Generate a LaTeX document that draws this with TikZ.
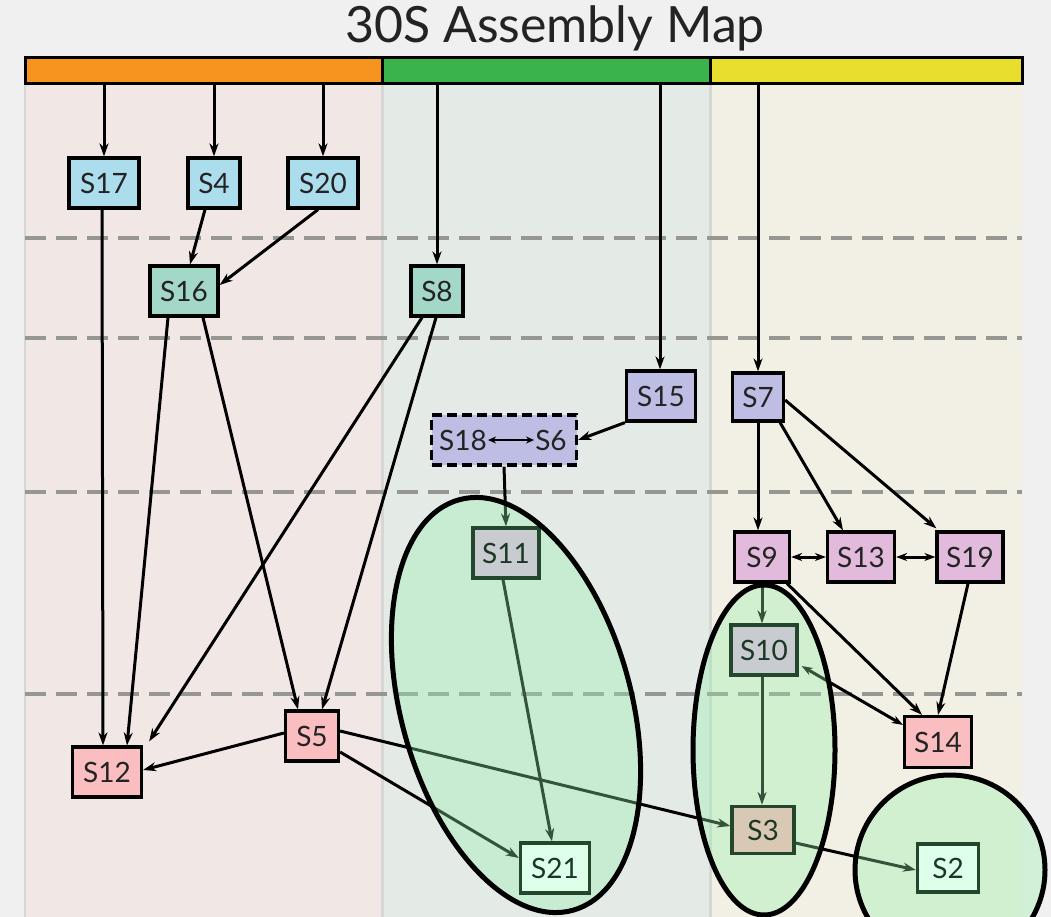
\documentclass[tikz,border=0pt]{standalone}
\usepackage{fontspec}
\setmainfont{Lato}
\usetikzlibrary{arrows.meta}
\definecolor{bgout}{RGB}{240,240,240}
\definecolor{bgA}{RGB}{241,231,229}
\definecolor{bgB}{RGB}{228,234,230}
\definecolor{bgC}{RGB}{242,240,228}
\definecolor{divc}{RGB}{214,214,214}
\definecolor{barO}{RGB}{245,148,30}
\definecolor{barG}{RGB}{58,180,74}
\definecolor{barY}{RGB}{232,222,45}
\definecolor{dashc}{RGB}{150,150,146}
\definecolor{cBlue}{RGB}{172,221,236}
\definecolor{cTeal}{RGB}{163,216,200}
\definecolor{cLav}{RGB}{190,190,228}
\definecolor{cPinkL}{RGB}{225,186,220}
\definecolor{cPink}{RGB}{250,190,192}
\definecolor{cGray}{RGB}{200,204,208}
\definecolor{cTan}{RGB}{216,200,180}
\definecolor{cMint}{RGB}{222,255,234}
\definecolor{dkgreen}{RGB}{35,70,45}
\definecolor{ovl}{RGB}{150,240,170}
\definecolor{txt}{RGB}{35,35,35}
\tikzset{
  prot/.style={draw=black, line width=3.2pt, minimum height=50pt, inner sep=0pt,
    font=\fontsize{28}{28}\selectfont, text=txt},
  inell/.style={draw=dkgreen, text=dkgreen!80!black},
  arr/.style={line width=3pt, -{Stealth[length=13pt,width=9pt]}},
  darr/.style={line width=3pt, {Stealth[length=11pt,width=8pt]}-{Stealth[length=11pt,width=8pt]}},
  hdash/.style={draw=dashc, line width=3.5pt, dash pattern=on 21pt off 10pt},
  ovfill/.style={fill=ovl, fill opacity=0.35},
  ovline/.style={draw=black, line width=5pt}
}
\begin{document}
\begin{tikzpicture}[x=1pt,y=1pt]
\useasboundingbox (0,0) rectangle (1051,-917);
% backgrounds
\fill[bgout] (0,0) rectangle (1051,-917);
\fill[bgA] (25,-84) rectangle (382,-917);
\fill[bgB] (382,-84) rectangle (710,-917);
\fill[bgC] (710,-84) rectangle (1022,-917);
\draw[divc, line width=3pt] (382,-84) -- (382,-917);
\draw[divc, line width=3pt] (710,-84) -- (710,-917);
\draw[divc, line width=2pt] (25,-84) -- (25,-917);
% dashed level lines
\foreach \yy in {238,338,492,694} {\draw[hdash] (25,-\yy) -- (1022,-\yy);}
% title
\node[font=\fontsize{50}{50}\selectfont, text=txt] (title) at (555,-28) {30S Assembly Map};
% color bar
\draw[fill=barO, line width=3pt] (25,-58) rectangle (382,-84);
\draw[fill=barG, line width=3pt] (382,-58) rectangle (710,-84);
\draw[fill=barY, line width=3pt] (710,-58) rectangle (1022,-84);
\coordinate (t17) at (104,-84);
\coordinate (t4) at (214,-84);
\coordinate (t20) at (323,-84);
\coordinate (t8) at (437,-84);
\coordinate (t15) at (660,-84);
\coordinate (t7) at (758,-84);
% nodes
\node[prot, fill=cBlue, minimum width=70pt] (S17) at (104,-183) {S17};
\node[prot, fill=cBlue, minimum width=52pt] (S4) at (214,-183) {S4};
\node[prot, fill=cBlue, minimum width=70pt] (S20) at (323,-183) {S20};
\node[prot, fill=cTeal, minimum width=68pt] (S16) at (184,-291) {S16};
\node[prot, fill=cTeal, minimum width=52pt] (S8) at (437,-291) {S8};
\node[prot, fill=cLav, minimum width=69pt] (S15) at (661,-396) {S15};
\node[prot, fill=cLav, minimum width=51pt, minimum height=48pt] (S7) at (758,-397) {S7};
\node[prot, fill=cLav, minimum width=145pt, dashed, dash pattern=on 10pt off 5pt] (G) at (504,-440) {};
\node[font=\fontsize{28}{28}\selectfont, text=txt, inner sep=1pt] (S18) at (463,-440) {S18};
\node[font=\fontsize{28}{28}\selectfont, text=txt, inner sep=1pt] (S6) at (551,-440) {S6};
\node[prot, fill=cPinkL, minimum width=55pt] (S9) at (762,-557) {S9};
\node[prot, fill=cPinkL, minimum width=67pt] (S13) at (861,-557) {S13};
\node[prot, fill=cPinkL, minimum width=66pt] (S19) at (970,-557) {S19};
\node[prot, fill=cPink, minimum width=67pt, minimum height=51pt] (S14) at (938,-742) {S14};
\node[prot, fill=cPink, minimum width=69pt] (S12) at (107,-772) {S12};
\node[prot, fill=cPink, minimum width=53pt] (S5) at (312,-736) {S5};
% edges
\draw[arr] (t17) -- (S17.north);
\draw[arr] (t4) -- (S4.north);
\draw[arr] (t20) -- (S20.north);
\draw[arr] (t8) -- (S8.north);
\draw[arr] (t15) -- (S15.north -| t15);
\draw[arr] (t7) -- (S7.north);
\draw[arr] ([xshift=-9pt]S4.south) -- ([xshift=6pt]S16.north);
\draw[arr] ([xshift=-5pt]S20.south) -- ([yshift=6pt]S16.east);
\draw[arr] ([xshift=-2pt]S17.south) -- ([xshift=-4pt]S12.north);
\draw[arr] ([xshift=-16pt]S16.south) -- ([xshift=20pt]S12.north);
\draw[arr] ([xshift=19pt]S16.south) -- ([xshift=-14pt]S5.north);
\draw[arr] ([xshift=-15pt]S8.south) -- ([xshift=6pt,yshift=4pt]S12.north east);
\draw[arr] ([xshift=-1pt]S8.south) -- ([xshift=10pt]S5.north);
\draw[arr] ([yshift=3pt]S5.west) -- ([yshift=2pt]S12.east);
\draw[arr] (S15.south west) -- (G.east);
\draw[line width=2.5pt, {Stealth[length=8pt,width=7pt]}-{Stealth[length=8pt,width=7pt]}] (S18.east) -- (S6.west);
\draw[arr] (S7.south) -- (S9.north -| S7.south);
\draw[arr] ([xshift=-5pt]S7.south east) -- ([xshift=-18pt]S13.north);
\draw[arr] ([yshift=-3pt]S7.east) -- ([xshift=1pt,yshift=2pt]S19.north west);
\draw[darr] (S9.east) -- (S13.west);
\draw[darr] (S13.east) -- (S19.west);
\draw[arr] ([xshift=-4pt]S9.south east) -- ([xshift=-16pt]S14.north);
\draw[arr] ([xshift=-2pt]S19.south) -- (S14.north);
% nodes within green regions (named, for the connectors)
\node[prot, inell, fill=cGray, minimum width=66pt] (S11) at (506,-553) {S11};
\node[prot, inell, fill=cMint, minimum width=69pt] (S21) at (555,-868) {S21};
\node[prot, inell, fill=cGray, minimum width=66pt] (S10) at (764,-650) {S10};
\node[prot, inell, fill=cTan, minimum width=62pt, minimum height=47pt] (S3) at (763,-830) {S3};
\node[prot, inell, fill=cMint, minimum width=61pt, minimum height=48pt] (S2) at (948,-868) {S2};
% edges into the green regions
\draw[arr] (G.south) -- (S11.north);
\draw[arr] ([xshift=-3pt]S11.south) -- ([xshift=-3pt]S21.north);
\draw[arr] ([yshift=-16pt]S5.east) -- ([yshift=10pt]S21.west);
\draw[arr] ([yshift=5pt]S5.east) -- ([yshift=4pt]S3.west);
\draw[arr] (S9.south) -- (S10.north -| S9.south);
\draw[arr] ([xshift=-2pt]S10.south) -- ([xshift=-1pt]S3.north);
\draw[darr] ([xshift=3pt,yshift=-16pt]S10.east) -- ([yshift=-10pt]S14.north west);
\draw[arr] ([yshift=-13pt]S3.east) -- ([yshift=-2pt]S2.west);
% translucent green regions
\path[ovfill] (516,-705) ellipse [x radius=115, y radius=213, rotate=15.5];
\path[ovfill] (764,-750) ellipse [x radius=71, y radius=165];
\path[ovfill] (950,-870) circle [radius=95];
\node[prot, inell, fill=cGray, minimum width=66pt] at (S11) {S11};
\node[prot, inell, fill=cMint, minimum width=69pt] at (S21) {S21};
\node[prot, inell, fill=cGray, minimum width=66pt] at (S10) {S10};
\node[prot, inell, fill=cTan, minimum width=62pt, minimum height=47pt] at (S3) {S3};
\node[prot, inell, fill=cMint, minimum width=61pt, minimum height=48pt] at (S2) {S2};
\draw[ovline] (516,-705) ellipse [x radius=115, y radius=213, rotate=15.5];
\draw[ovline] (764,-750) ellipse [x radius=71, y radius=165];
\draw[ovline] (950,-870) circle [radius=95];
\end{tikzpicture}
\end{document}
